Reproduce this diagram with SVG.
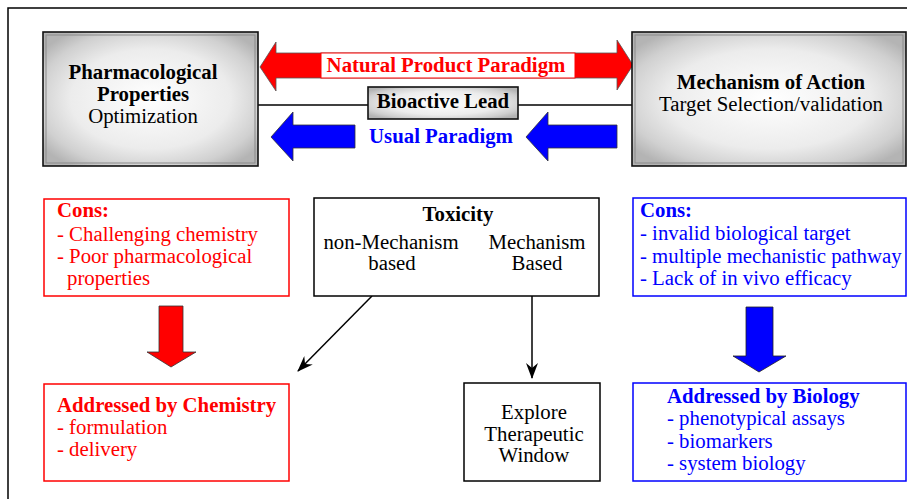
<svg xmlns="http://www.w3.org/2000/svg" width="907" height="499" viewBox="0 0 907 499">
<defs>
<radialGradient id="gray" cx="50%" cy="50%" r="62%">
<stop offset="0%" stop-color="#ffffff"/>
<stop offset="60%" stop-color="#ececec"/>
<stop offset="85%" stop-color="#d0d0d0"/>
<stop offset="100%" stop-color="#b4b4b4"/>
</radialGradient>
<marker id="ah" viewBox="0 0 16 12" refX="15" refY="6" markerWidth="16" markerHeight="12" markerUnits="userSpaceOnUse" orient="auto">
<path d="M0,0 L16,6 L0,12 L5,6 Z" fill="#000"/>
</marker>
<style>
text{font-family:"Liberation Serif","Times New Roman",serif;font-size:20.8px}
.b{font-weight:bold}
.r{fill:#ff0000}
.bl{fill:#0000ff}
.k{fill:#000}
.mid{text-anchor:middle}
.gbox{fill:url(#gray);stroke:#111;stroke-width:1.6}
.gin{fill:none;stroke:#8a8a8a;stroke-width:1}
.rbox{fill:#fff;stroke:#ff0000;stroke-width:1.5}
.bbox{fill:#fff;stroke:#0000ff;stroke-width:1.5}
.kbox{fill:#fff;stroke:#000;stroke-width:1.5}
.line{stroke:#000;stroke-width:1.5;fill:none}
</style>
</defs>
<rect x="0" y="0" width="907" height="499" fill="#fff"/>
<rect x="8" y="8" width="910" height="505" fill="none" stroke="#000" stroke-width="1.5"/>

<g id="connectors">
<line class="line" x1="258" y1="105" x2="632" y2="105"/>
<path d="M260,67 L276,42 L276,53 L617,53 L617,40 L633,65 L617,90 L617,78 L276,78 L276,91 Z" fill="#ff0000" stroke="#555" stroke-width="0.8"/>
<path d="M271,137 L293,112 L293,125 L355,125 L355,148 L293,148 L293,161 Z" fill="#0000ff" stroke="#333" stroke-width="0.8"/>
<path d="M526,137 L548,112 L548,125 L617,125 L617,148 L548,148 L548,161 Z" fill="#0000ff" stroke="#333" stroke-width="0.8"/>
<path d="M159,306 L183,306 L183,352 L196,352 L171,367 L147,352 L159,352 Z" fill="#ff0000" stroke="#333" stroke-width="0.8"/>
<path d="M746,307 L773,307 L773,356 L786,356 L759,372 L733,356 L746,356 Z" fill="#0000ff" stroke="#222" stroke-width="0.8"/>
<line class="line" x1="372" y1="296" x2="298" y2="371" marker-end="url(#ah)"/>
<line class="line" x1="532" y1="296" x2="532" y2="378" marker-end="url(#ah)"/>
</g>

<g id="natural-product-label">
<rect x="321" y="53" width="254" height="25" fill="#fff" stroke="#ff0000" stroke-width="1"/>
<text class="b r mid" x="446" y="72">Natural Product Paradigm</text>
</g>

<g id="usual-label">
<text class="b bl mid" x="441" y="143">Usual Paradigm</text>
</g>

<g id="pharmacological">
<rect class="gbox" x="43" y="32" width="215" height="134"/>
<rect class="gin" x="46" y="35" width="209" height="128"/>
<text class="b k mid" x="143" y="79">Pharmacological</text>
<text class="b k mid" x="143" y="101">Properties</text>
<text class="k mid" x="143" y="123">Optimization</text>
</g>

<g id="mechanism">
<rect class="gbox" x="632" y="32" width="274" height="134"/>
<rect class="gin" x="635" y="35" width="268" height="128"/>
<text class="b k mid" x="771" y="89">Mechanism of Action</text>
<text class="k mid" x="771" y="111">Target Selection/validation</text>
</g>

<g id="bioactive-lead">
<rect class="gbox" x="368" y="87" width="150" height="32"/>
<text class="b k mid" x="443" y="108">Bioactive Lead</text>
</g>

<g id="cons-chem">
<rect class="rbox" x="44" y="199" width="245" height="97"/>
<text class="b r" x="57" y="217">Cons:</text>
<text class="r" x="57" y="241">- Challenging chemistry</text>
<text class="r" x="57" y="263">- Poor pharmacological</text>
<text class="r" x="67" y="285">properties</text>
</g>

<g id="toxicity">
<rect class="kbox" x="314" y="198" width="285" height="98"/>
<text class="b k mid" x="458" y="221">Toxicity</text>
<text class="k mid" x="391" y="249">non-Mechanism</text>
<text class="k mid" x="392" y="270">based</text>
<text class="k mid" x="537" y="249">Mechanism</text>
<text class="k mid" x="537" y="270">Based</text>
</g>

<g id="cons-bio">
<rect class="bbox" x="633" y="198" width="273" height="98"/>
<text class="b bl" x="640" y="217">Cons:</text>
<text class="bl" x="640" y="240">- invalid biological target</text>
<text class="bl" x="640" y="263">- multiple mechanistic pathway</text>
<text class="bl" x="640" y="285">- Lack of in vivo efficacy</text>
</g>

<g id="addressed-chem">
<rect class="rbox" x="44" y="384" width="245" height="97"/>
<text class="b r" x="57" y="412">Addressed by Chemistry</text>
<text class="r" x="57" y="434">- formulation</text>
<text class="r" x="57" y="456">- delivery</text>
</g>

<g id="explore">
<rect class="kbox" x="464" y="383" width="136" height="98"/>
<text class="k mid" x="534" y="419">Explore</text>
<text class="k mid" x="534" y="441">Therapeutic</text>
<text class="k mid" x="534" y="462">Window</text>
</g>

<g id="addressed-bio">
<rect class="bbox" x="633" y="383" width="273" height="98"/>
<text class="b bl" x="667" y="403">Addressed by Biology</text>
<text class="bl" x="667" y="425">- phenotypical assays</text>
<text class="bl" x="667" y="448">- biomarkers</text>
<text class="bl" x="667" y="470">- system biology</text>
</g>
</svg>
